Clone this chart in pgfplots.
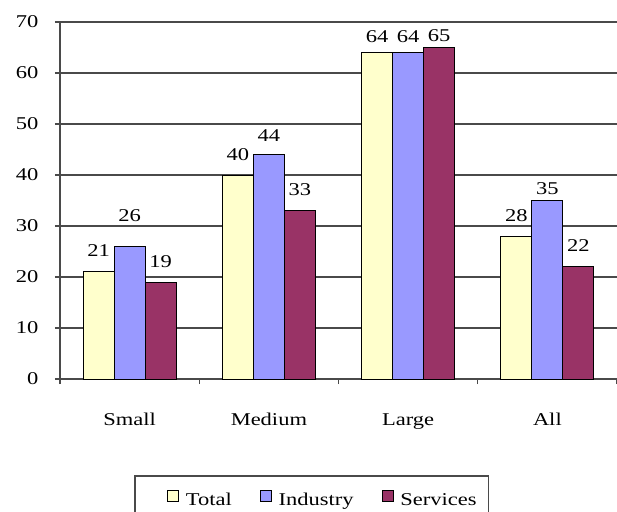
\documentclass[border=0pt]{standalone}
\usepackage{fontspec}
\setmainfont{Liberation Serif}[FakeStretch=1.25]
\usepackage{pgfplots}
\pgfplotsset{compat=1.18}
\definecolor{cTotal}{HTML}{FFFFCC}
\definecolor{cInd}{HTML}{9999FF}
\definecolor{cSer}{HTML}{993366}
\definecolor{gridc}{HTML}{4A4A4A}
\newcommand\fs{\fontsize{18bp}{20bp}\selectfont}
\begin{document}
\begin{tikzpicture}
\begin{axis}[
  at={(0,0)}, anchor=south west,
  scale only axis, width=557bp, height=357bp,
  ybar=0pt, bar width=31bp,
  xmin=-0.5, xmax=3.5, ymin=0, ymax=70,
  axis x line*=bottom, axis y line*=left,
  axis line style={gridc, line width=1.6bp},
  xtick={0,1,2,3}, xticklabels={Small,Medium,Large,All},
  major x tick style={draw=none},
  minor xtick={-0.5,0.5,1.5,2.5,3.5},
  minor tick length=5bp,
  minor x tick style={gridc, line width=1.2bp},
  ytick={0,10,...,70},
  major tick length=5bp,
  tick align=outside,
  y tick style={gridc, line width=1.2bp},
  ymajorgrids, grid style={gridc, line width=1.6bp},
  /pgf/number format/assume math mode=true,
  tick label style={font=\fs, text=black},
  xticklabel style={anchor=base, yshift=-41bp},
  yticklabel style={anchor=east, xshift=-13bp},
  every node near coord/.append style={font=\fs, text=black, anchor=base, yshift=15bp},
  nodes near coords,
  legend columns=3,
  legend style={at={(0.452,-0.269)}, anchor=north, draw=gridc, line width=1.6bp,
    font=\fs, inner xsep=10bp, inner ysep=14bp,
    /tikz/every odd column/.append style={column sep=5bp},
    /tikz/every even column/.append style={column sep=26bp}},
  legend image code/.code={\draw[#1, draw=black, line width=0.8bp] (0bp,-1bp) rectangle (11bp,10bp);},
  legend cell align=left,
]
\addplot[fill=cTotal, draw=black, line width=1bp,
  coordinate style/.condition={\coordindex==2}{yshift=-5bp},
  legend image code/.code={\path (-22bp,0bp); \draw[##1, draw=black, line width=0.8bp] (0bp,-1bp) rectangle (11bp,10bp);}]
  coordinates {(0,21) (1,40) (2,64) (3,28)};
\addplot[fill=cInd, draw=black, line width=1bp,
  coordinate style/.condition={\coordindex==0}{yshift=10bp},
  coordinate style/.condition={\coordindex==1}{yshift=-2bp},
  coordinate style/.condition={\coordindex==2}{yshift=-5bp},
  coordinate style/.condition={\coordindex==3}{yshift=-9bp}] coordinates {(0,26) (1,44) (2,64) (3,35)};
\addplot[fill=cSer, draw=black, line width=1bp,
  coordinate style/.condition={\coordindex==2}{yshift=-9bp}] coordinates {(0,19) (1,33) (2,65) (3,22)};
\legend{Total,Industry,Services\hspace{4bp}}
\end{axis}
\pgfresetboundingbox
\path[use as bounding box] (-60bp,-133bp) rectangle (557bp,379bp);
\end{tikzpicture}
\end{document}
